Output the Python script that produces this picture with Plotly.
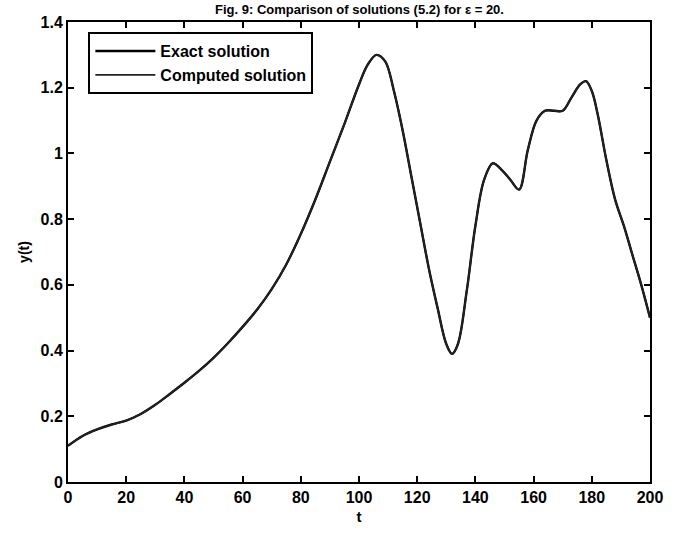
import plotly.graph_objects as go

# Solution samples y(t)
t_vals = [0, 5, 10, 15, 20, 25, 30, 35, 40, 45, 50, 55, 60, 65, 70, 75, 80, 85,
          90, 95, 100, 103, 106, 109, 112, 115, 118, 121, 124, 127, 130, 132,
          134, 137, 140, 143, 146, 149, 152, 155, 158, 161, 164, 167, 170, 173,
          176, 178, 180, 182, 185, 188, 191, 194, 197, 200]
exact_vals = [0.11, 0.14, 0.16, 0.175, 0.187, 0.207, 0.235, 0.268, 0.302, 0.338,
              0.378, 0.423, 0.472, 0.525, 0.587, 0.662, 0.755, 0.86, 0.975, 1.09,
              1.21, 1.27, 1.30, 1.28, 1.19, 1.07, 0.93, 0.79, 0.65, 0.53,
              0.42, 0.39, 0.42, 0.58, 0.78, 0.92, 0.97, 0.95, 0.92, 0.89,
              1.01, 1.10, 1.13, 1.13, 1.13, 1.17, 1.21, 1.22, 1.19, 1.12,
              0.98, 0.86, 0.78, 0.69, 0.60, 0.50]
computed_vals = list(exact_vals)

x_ticks = [0, 20, 40, 60, 80, 100, 120, 140, 160, 180, 200]
y_ticks = [0, 0.2, 0.4, 0.6, 0.8, 1.0, 1.2, 1.4]
y_tick_text = ["0", "0.2", "0.4", "0.6", "0.8", "1", "1.2", "1.4"]

FONT = "Liberation Sans Narrow, Arial Narrow, Liberation Sans, Arial"

fig = go.Figure()
fig.add_trace(go.Scatter(
    x=t_vals, y=exact_vals, mode="lines", name="Exact solution",
    line=dict(color="black", width=2.4, shape="spline", smoothing=1.0),
))
fig.add_trace(go.Scatter(
    x=t_vals, y=computed_vals, mode="lines", name="Computed solution",
    line=dict(color="#222222", width=1.8, shape="spline", smoothing=1.0),
))

axis_common = dict(
    showline=True, linecolor="black", linewidth=2, mirror="ticks",
    ticks="inside", ticklen=6, tickwidth=1.5, tickcolor="black",
    showgrid=False, zeroline=False,
    tickfont=dict(family=FONT, size=16, color="black", weight="bold"),
)

fig.update_layout(
    width=675, height=535,
    margin=dict(l=68, r=12, t=22, b=45),
    paper_bgcolor="white", plot_bgcolor="white",
    showlegend=True,
    legend=dict(
        x=0.035, y=0.978, xanchor="left", yanchor="top",
        bgcolor="white", bordercolor="black", borderwidth=2,
        font=dict(family=FONT, size=16, color="black", weight="bold"),
        itemwidth=60, tracegroupgap=2,
    ),
    xaxis=dict(range=[0, 200], tickvals=x_ticks,
               title=dict(text="t", standoff=6,
                          font=dict(family=FONT, size=15, color="black", weight="bold")),
               **axis_common),
    yaxis=dict(range=[0, 1.4], tickvals=y_ticks, ticktext=y_tick_text,
               title=dict(text="y(t)", standoff=8,
                          font=dict(family=FONT, size=14, color="black", weight="bold")),
               **axis_common),
    annotations=[dict(
        text="Fig. 9: Comparison of solutions (5.2) for \u03b5 = 20.",
        xref="paper", yref="paper", x=0.5, y=1.028,
        xanchor="center", yanchor="middle", showarrow=False,
        font=dict(family=FONT, size=13, color="black", weight="bold"),
    )],
)

fig.write_html("out.html")
